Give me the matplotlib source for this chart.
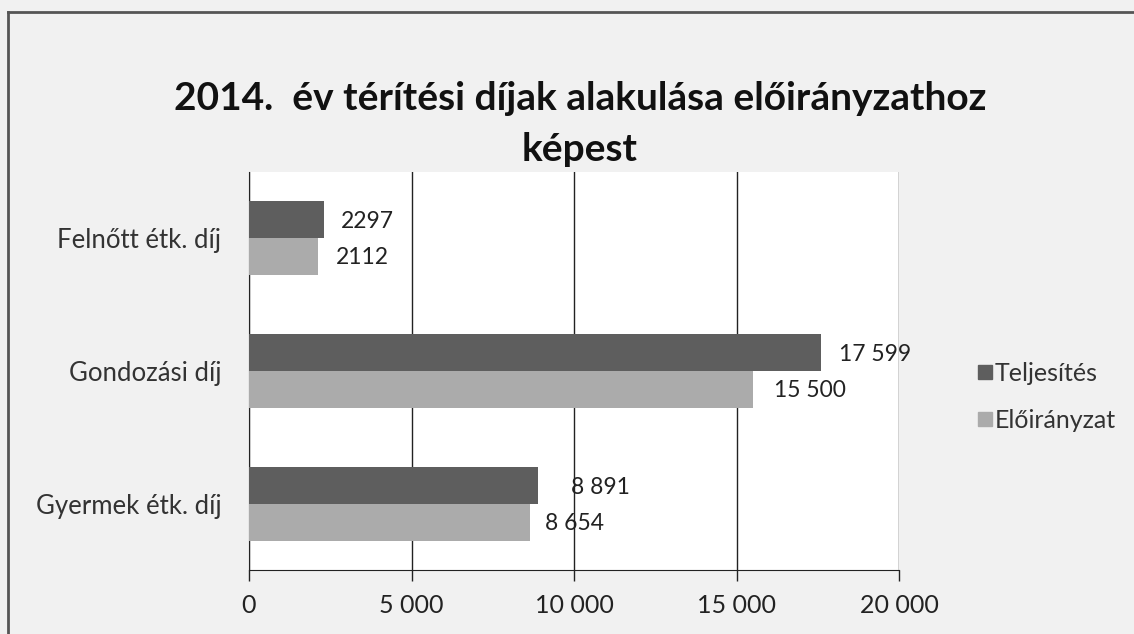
import matplotlib
matplotlib.use("Agg")
import matplotlib.pyplot as plt
from matplotlib.lines import Line2D
import numpy as np

# ---- data ----
categories = ["Felnőtt étk. díj", "Gondozási díj", "Gyermek étk. díj"]
teljesites = [2297, 17599, 8891]
eloiranyzat = [2112, 15500, 8654]
teljesites_labels = ["2297", "17 599", "8 891"]
eloiranyzat_labels = ["2112", "15 500", "8 654"]
x_ticks = [0, 5000, 10000, 15000, 20000]
x_tick_labels = ["0", "5 000", "10 000", "15 000", "20 000"]
series_names = ["Teljesítés", "Előirányzat"]
title = "2014.  év térítési díjak alakulása előirányzathoz\nképest"

# label offsets in pixels (style)
tel_dx = [17, 18, 33]
elo_dx = [18, 21, 15]

FONT = ["Lato", "DejaVu Sans"]
plt.rcParams["font.family"] = FONT

DPI = 100
fig = plt.figure(figsize=(11.34, 6.34), dpi=DPI, facecolor="#f1f1f1")
ax = fig.add_axes([249 / 1134, 1 - 570 / 634, 650 / 1134, 398 / 634])
ax.set_facecolor("white")

dark = "#5e5e5e"
light = "#ababab"
h = 0.278
y = np.arange(len(categories))

b1 = ax.barh(y - h / 2, teljesites, height=h, color=dark, zorder=3)
b2 = ax.barh(y + h / 2, eloiranyzat, height=h, color=light, zorder=3)

px = 72 / DPI
for rect, lab, dx in zip(b1, teljesites_labels, tel_dx):
    ax.annotate(lab, (rect.get_width(), rect.get_y() + rect.get_height() / 2),
                xytext=(dx * px, -2 * px), textcoords="offset points",
                ha="left", va="center", fontsize=16.5, color="#222222")
for rect, lab, dx in zip(b2, eloiranyzat_labels, elo_dx):
    ax.annotate(lab, (rect.get_width(), rect.get_y() + rect.get_height() / 2),
                xytext=(dx * px, -1 * px), textcoords="offset points",
                ha="left", va="center", fontsize=16.5, color="#222222")

ax.set_xlim(0, 20000)
ax.set_ylim(len(categories) - 0.5, -0.5)
ax.set_xticks(x_ticks)
ax.set_xticklabels(x_tick_labels, fontsize=18, color="#222222")
ax.set_yticks(y)
ax.set_yticklabels(categories, fontsize=18.5, color="#333333")
ax.tick_params(axis="x", direction="out", length=8, width=1, color="#222222", pad=9)
ax.tick_params(axis="y", length=0, pad=20)

ax.grid(axis="x", color="#222222", linewidth=1, zorder=1)
ax.grid(axis="y", visible=False)
ax.spines["top"].set_visible(False)
ax.spines["right"].set_visible(False)
ax.spines["left"].set_color("#222222")
ax.spines["bottom"].set_color("#222222")
ax.set_axisbelow(True)

# title
fig.text(580 / 1134, 1 - 124 / 634, title, ha="center", va="center",
         fontsize=28, fontweight="bold", color="#111111", linespacing=1.55)

# legend
handles = [Line2D([0], [0], marker="s", linestyle="none", markersize=10,
                  markerfacecolor=c, markeredgecolor=c) for c in (dark, light)]
leg = fig.legend(handles, series_names, loc="center left",
                 bbox_to_anchor=(976 / 1134, 1 - 397 / 634),
                 frameon=False, fontsize=18, handletextpad=0.05,
                 labelspacing=0.95, handlelength=0.7, labelcolor="#333333",
                 borderpad=0, borderaxespad=0)

# outer border (left and top)
fig.add_artist(Line2D([8 / 1134, 8 / 1134], [0, 1 - 12 / 634],
                      transform=fig.transFigure, color="#555555", linewidth=2))
fig.add_artist(Line2D([8 / 1134, 1], [1 - 12 / 634, 1 - 12 / 634],
                      transform=fig.transFigure, color="#555555", linewidth=2))

fig.savefig("out.png", dpi=DPI, facecolor=fig.get_facecolor())
